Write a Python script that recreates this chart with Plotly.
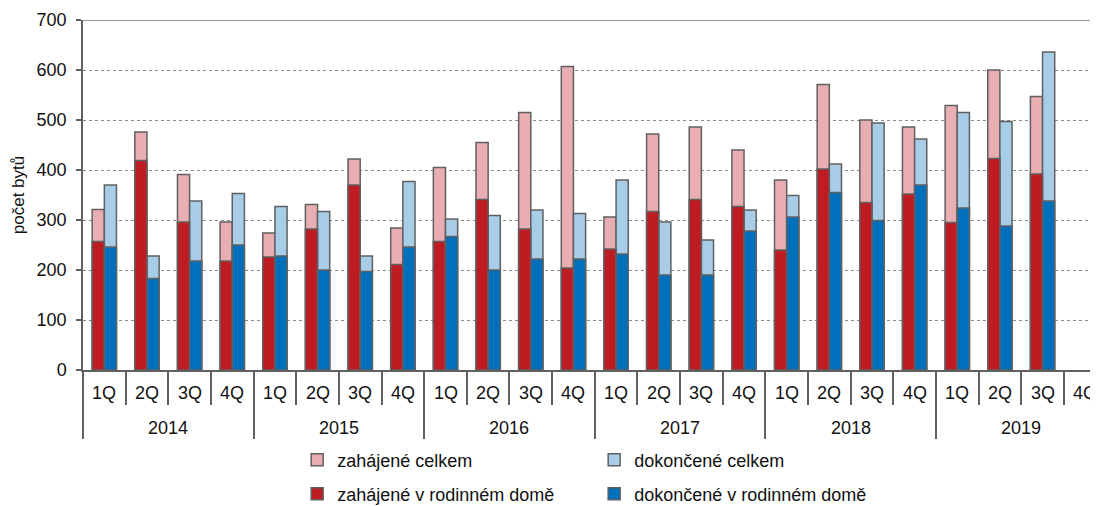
import plotly.graph_objects as go

years = ["2014", "2015", "2016", "2017", "2018", "2019"]
quarters = ["1Q", "2Q", "3Q", "4Q"]

zahajene_celkem = [321, 476, 391, 296, 274, 331, 422, 284,
                   405, 455, 515, 607, 306, 472, 486, 440,
                   380, 571, 500, 486, 529, 600, 547, None]
zahajene_rd = [257, 419, 296, 218, 226, 282, 370, 211,
               257, 341, 282, 204, 242, 317, 341, 327,
               240, 402, 335, 352, 295, 423, 392, None]
dokoncene_celkem = [370, 228, 338, 353, 327, 317, 228, 377,
                    302, 309, 320, 313, 380, 296, 260, 320,
                    349, 412, 494, 462, 515, 497, 636, None]
dokoncene_rd = [246, 183, 218, 250, 228, 200, 197, 246,
                267, 200, 222, 222, 232, 190, 190, 278,
                306, 355, 299, 370, 324, 288, 338, None]

labels_q = [q for y in years for q in quarters]
n = len(labels_q)
xs = list(range(n))

FONT = "Liberation Sans, Arial, sans-serif"
OUT = "#606060"
W = 0.285
FIG_W, FIG_H = 1090, 498

fig = go.Figure()
fig.add_bar(x=xs, y=zahajene_celkem, name="zahájené celkem", width=W, offset=-W,
            marker=dict(color="#E8AEB1", line=dict(color=OUT, width=1.5)), legend="legend")
fig.add_bar(x=xs, y=dokoncene_celkem, name="dokončené celkem", width=W, offset=0,
            marker=dict(color="#A8CDE9", line=dict(color=OUT, width=1.5)), legend="legend")
fig.add_bar(x=xs, y=zahajene_rd, name="zahájené v rodinném domě", width=W, offset=-W,
            marker=dict(color="#BE1B23", line=dict(color=OUT, width=1.5)), legend="legend2")
fig.add_bar(x=xs, y=dokoncene_rd, name="dokončené v rodinném domě", width=W, offset=0,
            marker=dict(color="#0070BC", line=dict(color=OUT, width=1.5)), legend="legend2")

annotations = []
for i, q in enumerate(labels_q):
    annotations.append(dict(x=i, y=0, xref="x", yref="paper", text=q, showarrow=False,
                            yanchor="middle", yshift=-23, font=dict(size=18, color="#111")))
for k, y in enumerate(years):
    annotations.append(dict(x=4 * k + 1.5, y=0, xref="x", yref="paper", text=y, showarrow=False,
                            yanchor="middle", yshift=-58, font=dict(size=18, color="#111")))

fig.update_layout(
    width=FIG_W, height=FIG_H,
    margin=dict(l=75, r=0, t=12, b=136, autoexpand=False),
    paper_bgcolor="white", plot_bgcolor="white",
    barmode="overlay",
    font=dict(family=FONT, size=18, color="#111"),
    annotations=annotations,
    legend=dict(orientation="h", x=0.211, xanchor="left", y=1 - 452 / FIG_H, yref="container",
                yanchor="middle", entrywidth=252, font=dict(size=18), traceorder="normal"),
    legend2=dict(orientation="h", x=0.211, xanchor="left", y=1 - 486 / FIG_H, yref="container",
                 yanchor="middle", entrywidth=252, font=dict(size=18), traceorder="normal"),
    shapes=[dict(type="line", xref="paper", yref="y", x0=0, x1=1, y0=700, y1=700,
                 line=dict(color="#777", width=1.5))],
)
fig.update_xaxes(range=[-0.5, 23.3], showgrid=False, zeroline=False,
                 showline=True, linecolor=OUT, linewidth=1.5,
                 tickmode="linear", tick0=-0.5, dtick=4, ticks="outside", ticklen=67,
                 tickcolor=OUT, tickwidth=1.5, showticklabels=False,
                 minor=dict(tickmode="linear", tick0=-0.5, dtick=1, ticks="outside",
                            ticklen=33, tickcolor=OUT, tickwidth=1.5))
fig.update_yaxes(range=[0, 700], tickmode="linear", tick0=0, dtick=100, automargin=False,
                 showgrid=True, gridcolor="#8a8a8a", griddash="dot", gridwidth=1,
                 zeroline=False, showline=True, linecolor=OUT, linewidth=1.5,
                 ticks="outside", ticklen=5, tickcolor=OUT, tickwidth=1.5,
                 ticklabelstandoff=6, tickfont=dict(size=18),
                 title=dict(text="počet bytů", font=dict(size=17), standoff=8))

fig.write_html("out.html")
